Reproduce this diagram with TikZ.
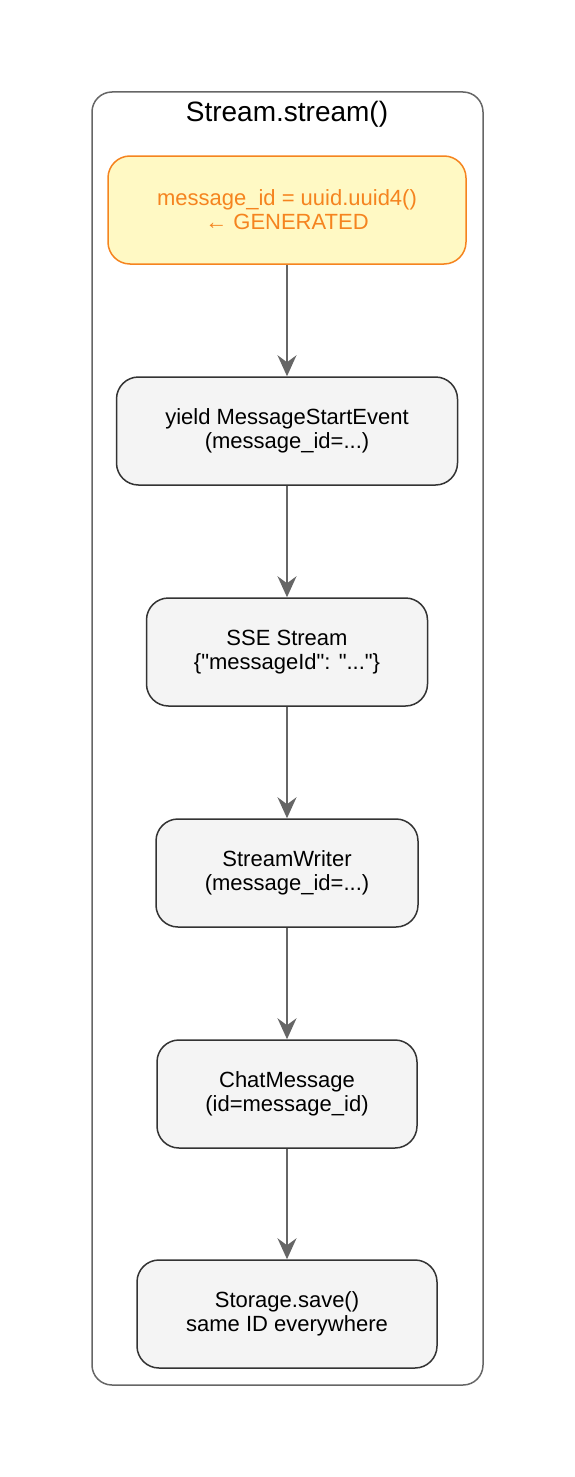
\documentclass[tikz,border=0pt]{standalone}
\usepackage{fontspec}
\setmainfont{Liberation Sans}[Ligatures=TeXOff]
\usetikzlibrary{arrows.meta}
\definecolor{boxfill}{HTML}{F4F4F4}
\definecolor{boxline}{HTML}{333333}
\definecolor{genfill}{HTML}{FFF9C4}
\definecolor{genline}{HTML}{F5841F}
\definecolor{arrowc}{HTML}{666666}
\begin{document}
\begin{tikzpicture}[x=1pt,y=-1pt,
  stepbox/.style={draw=boxline, fill=boxfill, line width=1.5pt, rounded corners=22pt, align=center, font=\fontsize{22}{24}\selectfont, inner sep=0pt},
  genbox/.style={stepbox, draw=genline, fill=genfill, text=genline},
  flow/.style={draw=arrowc, line width=1.8pt, -{Stealth[length=21pt,width=19pt,inset=7pt]}}
]
\useasboundingbox (0,0) rectangle (575,1477);
\draw[arrowc, line width=1.5pt, rounded corners=20pt] (92,92) rectangle (483,1385);
\node[font=\fontsize{28}{30}\selectfont] (title) at (287,114) {Stream.stream()};
\node[genbox, minimum width=358pt, minimum height=108pt] (n1) at (287,210) {message\_id = uuid.uuid4()\\← GENERATED};
\node[stepbox, minimum width=341pt, minimum height=108pt] (n2) at (287,431) {yield MessageStartEvent\\(message\_id=...)};
\node[stepbox, minimum width=281pt, minimum height=108pt] (n3) at (287,652) {SSE Stream\\\{"messageId": "..."\}};
\node[stepbox, minimum width=262pt, minimum height=108pt] (n4) at (287,873) {StreamWriter\\(message\_id=...)};
\node[stepbox, minimum width=260pt, minimum height=108pt] (n5) at (287,1094) {ChatMessage\\(id=message\_id)};
\node[stepbox, minimum width=300pt, minimum height=108pt] (n6) at (287,1314) {Storage.save()\\same ID everywhere};
\draw[flow] (n1) -- (n2);
\draw[flow] (n2) -- (n3);
\draw[flow] (n3) -- (n4);
\draw[flow] (n4) -- (n5);
\draw[flow] (n5) -- (n6);
\end{tikzpicture}
\end{document}
